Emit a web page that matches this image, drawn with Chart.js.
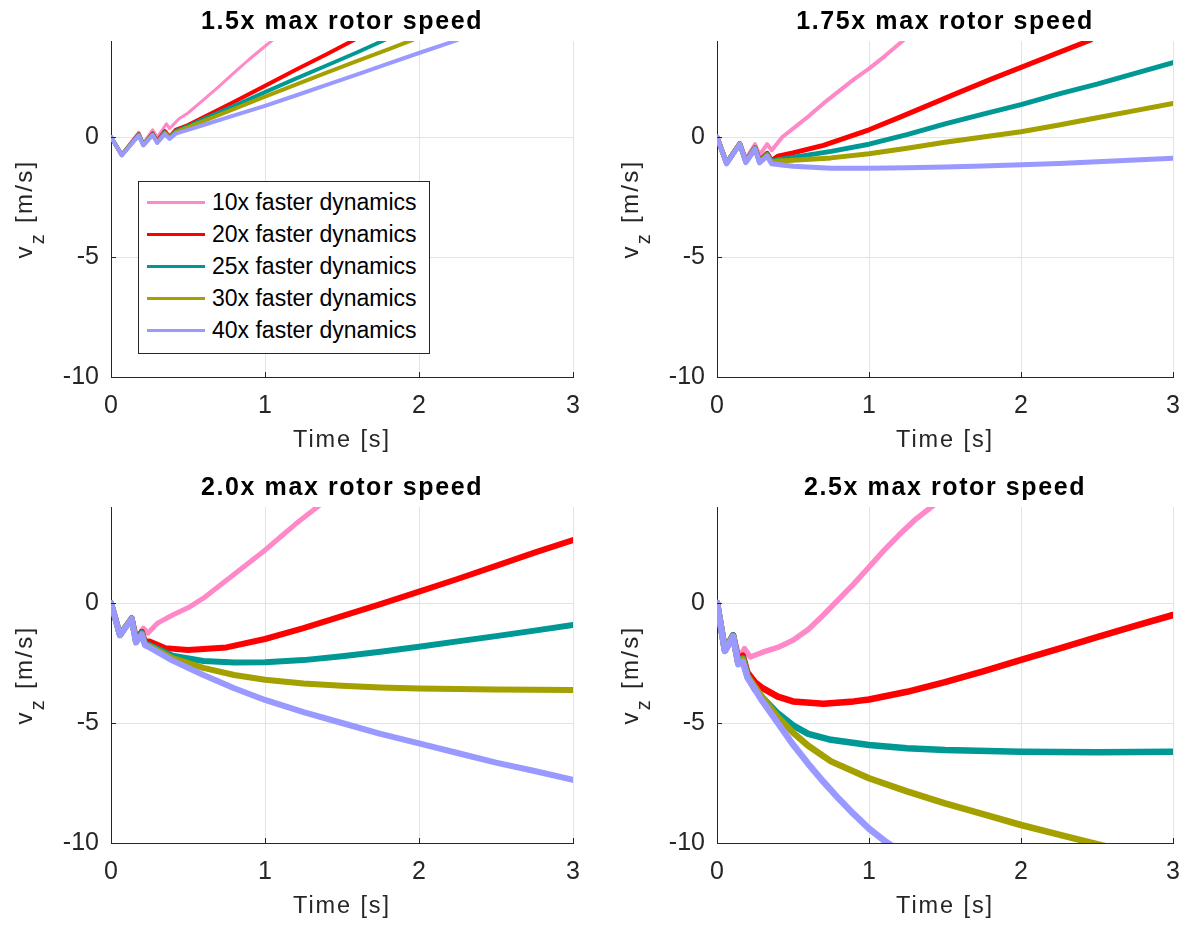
<!DOCTYPE html>
<html>
<head>
<meta charset="utf-8">
<script src="https://cdn.jsdelivr.net/npm/chart.js@4.4.0/dist/chart.umd.min.js"></script>
<style>
  body { margin: 0; background: #fff; font-family: "Liberation Sans", Arial, sans-serif; }
  #page { position: relative; width: 1194px; height: 932px; overflow: hidden; }
  .panel { position: absolute; width: 597px; height: 466px; }
  #legend { position: absolute; left: 138px; top: 181px; width: 290px; height: 167px;
            border: 1px solid #262626; background: #fff; padding-top: 4px; box-sizing: content-box; }
  #legend .row { height: 32px; display: flex; align-items: center; font-size: 23px; color: #000; }
  #legend .swatch { display: inline-block; width: 58px; height: 3px; margin-left: 8px; margin-right: 7px; }
</style>
</head>
<body>
<div id="page">
  <div class="panel" style="left:0;top:0"><canvas id="c1"></canvas></div>
  <div class="panel" style="left:597px;top:0"><canvas id="c2"></canvas></div>
  <div class="panel" style="left:0;top:466px"><canvas id="c3"></canvas></div>
  <div class="panel" style="left:597px;top:466px"><canvas id="c4"></canvas></div>
  <div id="legend"></div>
</div>
<script>
// ---- data: [time s, v_z m/s] ----
const seriesLabels = ['10x faster dynamics', '20x faster dynamics', '25x faster dynamics', '30x faster dynamics', '40x faster dynamics'];
const seriesColors = ['#ff88c8', '#ff0000', '#009894', '#a3a000', '#9999ff'];
const panelTitles = ['1.5x max rotor speed', '1.75x max rotor speed', '2.0x max rotor speed', '2.5x max rotor speed'];
const xTicks = [0, 1, 2, 3];
const yTicks = [-10, -5, 0];

// 1.5x
const p1_10x = [[0,0],[0.07,-0.72],[0.18,0.2],[0.21,-0.25],[0.27,0.3],[0.3,0.0],[0.36,0.55],[0.38,0.35],[0.44,0.75],[0.5,1.0],[0.6,1.55],[0.7,2.1],[0.8,2.68],[0.9,3.25],[1.0,3.78],[1.07,4.15]];
const p1_20x = [[0,0],[0.07,-0.75],[0.18,0.12],[0.21,-0.33],[0.27,0.15],[0.3,-0.18],[0.35,0.25],[0.38,0.0],[0.42,0.3],[0.5,0.5],[0.6,0.82],[0.8,1.47],[1.0,2.13],[1.2,2.8],[1.4,3.45],[1.58,4.05]];
const p1_25x = [[0,0],[0.07,-0.75],[0.18,0.1],[0.21,-0.33],[0.27,0.12],[0.3,-0.2],[0.35,0.2],[0.38,-0.02],[0.42,0.25],[0.5,0.45],[0.6,0.75],[0.8,1.3],[1.0,1.87],[1.2,2.43],[1.4,2.98],[1.6,3.53],[1.78,4.05]];
const p1_30x = [[0,0],[0.07,-0.75],[0.18,0.08],[0.21,-0.33],[0.27,0.1],[0.3,-0.22],[0.35,0.17],[0.38,-0.04],[0.42,0.2],[0.5,0.4],[0.6,0.66],[0.8,1.17],[1.0,1.68],[1.2,2.18],[1.4,2.68],[1.6,3.17],[1.8,3.65],[1.96,4.05]];
const p1_40x = [[0,0],[0.07,-0.77],[0.18,0.06],[0.21,-0.35],[0.27,0.08],[0.3,-0.25],[0.35,0.12],[0.38,-0.08],[0.42,0.14],[0.5,0.3],[0.6,0.5],[0.8,0.9],[1.0,1.3],[1.2,1.73],[1.4,2.17],[1.6,2.61],[1.8,3.06],[2.0,3.5],[2.2,3.93],[2.25,4.05]];

// 1.75x
const p2_10x = [[0,0],[0.063,-1.05],[0.15,-0.25],[0.19,-0.9],[0.25,-0.3],[0.28,-0.75],[0.33,-0.3],[0.36,-0.55],[0.43,0.0],[0.5,0.35],[0.6,0.85],[0.7,1.4],[0.8,1.9],[0.9,2.4],[1.0,2.85],[1.1,3.35],[1.23,4.05]];
const p2_20x = [[0,0],[0.063,-1.1],[0.15,-0.28],[0.19,-1.03],[0.25,-0.45],[0.28,-1.0],[0.33,-0.68],[0.36,-0.98],[0.4,-0.8],[0.5,-0.66],[0.7,-0.35],[1.0,0.3],[1.2,0.82],[1.4,1.35],[1.6,1.88],[1.8,2.4],[2.0,2.9],[2.2,3.4],[2.46,4.05]];
const p2_25x = [[0,0],[0.063,-1.1],[0.15,-0.28],[0.19,-1.03],[0.25,-0.45],[0.28,-1.03],[0.33,-0.72],[0.36,-1.02],[0.4,-0.95],[0.5,-0.85],[0.75,-0.6],[1.0,-0.3],[1.25,0.1],[1.5,0.55],[1.75,0.95],[2.0,1.35],[2.25,1.8],[2.5,2.2],[2.75,2.65],[3.0,3.1]];
const p2_30x = [[0,0],[0.063,-1.1],[0.15,-0.28],[0.19,-1.05],[0.25,-0.47],[0.28,-1.05],[0.33,-0.75],[0.36,-1.05],[0.4,-1.0],[0.5,-0.97],[0.75,-0.87],[1.0,-0.7],[1.25,-0.47],[1.5,-0.22],[1.75,0.0],[2.0,0.22],[2.25,0.5],[2.5,0.8],[2.75,1.1],[3.0,1.4]];
const p2_40x = [[0,0],[0.063,-1.12],[0.15,-0.3],[0.19,-1.07],[0.25,-0.5],[0.28,-1.08],[0.33,-0.8],[0.36,-1.12],[0.4,-1.15],[0.5,-1.22],[0.75,-1.3],[1.0,-1.3],[1.25,-1.28],[1.5,-1.25],[1.75,-1.21],[2.0,-1.16],[2.25,-1.1],[2.5,-1.03],[2.75,-0.96],[3.0,-0.89]];

// 2.0x
const p3_10x = [[0,0],[0.058,-1.3],[0.134,-0.6],[0.17,-1.45],[0.21,-1.05],[0.24,-1.25],[0.3,-0.85],[0.4,-0.5],[0.5,-0.2],[0.6,0.2],[0.7,0.7],[0.8,1.2],[0.9,1.7],[1.0,2.2],[1.1,2.75],[1.2,3.3],[1.35,4.05]];
const p3_20x = [[0,0],[0.058,-1.33],[0.134,-0.64],[0.162,-1.55],[0.2,-1.2],[0.22,-1.6],[0.25,-1.6],[0.35,-1.88],[0.5,-1.96],[0.75,-1.85],[1.0,-1.5],[1.25,-1.05],[1.5,-0.55],[1.75,-0.05],[2.0,0.47],[2.25,1.0],[2.5,1.55],[2.75,2.1],[3.0,2.62]];
const p3_25x = [[0,0],[0.058,-1.33],[0.134,-0.64],[0.162,-1.6],[0.2,-1.25],[0.22,-1.68],[0.25,-1.75],[0.4,-2.2],[0.6,-2.42],[0.8,-2.48],[1.0,-2.47],[1.25,-2.38],[1.5,-2.22],[1.75,-2.03],[2.0,-1.82],[2.25,-1.6],[2.5,-1.38],[2.75,-1.15],[3.0,-0.92]];
const p3_30x = [[0,0],[0.058,-1.33],[0.134,-0.64],[0.162,-1.62],[0.2,-1.28],[0.22,-1.72],[0.25,-1.8],[0.4,-2.3],[0.6,-2.7],[0.8,-3.0],[1.0,-3.2],[1.25,-3.35],[1.5,-3.45],[1.75,-3.52],[2.0,-3.56],[2.5,-3.6],[3.0,-3.62]];
const p3_40x = [[0,0],[0.058,-1.35],[0.134,-0.66],[0.162,-1.65],[0.2,-1.32],[0.22,-1.76],[0.25,-1.85],[0.4,-2.4],[0.6,-3.0],[0.8,-3.55],[1.0,-4.04],[1.25,-4.55],[1.5,-5.0],[1.75,-5.45],[2.0,-5.85],[2.25,-6.25],[2.5,-6.65],[2.75,-7.0],[3.0,-7.37]];

// 2.5x
const p4_10x = [[0,0],[0.052,-1.96],[0.106,-1.35],[0.15,-2.3],[0.18,-1.9],[0.22,-2.25],[0.3,-2.05],[0.4,-1.85],[0.5,-1.55],[0.6,-1.1],[0.7,-0.5],[0.8,0.15],[0.9,0.8],[1.0,1.5],[1.1,2.2],[1.2,2.85],[1.3,3.45],[1.43,4.1]];
const p4_20x = [[0,0],[0.052,-1.96],[0.106,-1.35],[0.14,-2.45],[0.17,-2.2],[0.2,-2.9],[0.25,-3.3],[0.3,-3.55],[0.4,-3.9],[0.5,-4.1],[0.7,-4.2],[0.9,-4.1],[1.0,-4.02],[1.25,-3.7],[1.5,-3.3],[1.75,-2.85],[2.0,-2.37],[2.25,-1.9],[2.5,-1.42],[2.75,-0.95],[3.0,-0.5]];
const p4_25x = [[0,0],[0.052,-1.96],[0.106,-1.35],[0.14,-2.5],[0.17,-2.3],[0.2,-3.0],[0.25,-3.6],[0.3,-3.95],[0.4,-4.6],[0.5,-5.1],[0.6,-5.45],[0.75,-5.7],[1.0,-5.92],[1.25,-6.05],[1.5,-6.13],[2.0,-6.2],[2.5,-6.22],[3.0,-6.2]];
const p4_30x = [[0,0],[0.052,-1.98],[0.106,-1.38],[0.14,-2.52],[0.17,-2.35],[0.2,-3.05],[0.3,-3.95],[0.4,-4.75],[0.5,-5.4],[0.6,-5.95],[0.75,-6.6],[1.0,-7.3],[1.25,-7.85],[1.5,-8.35],[1.75,-8.8],[2.0,-9.25],[2.25,-9.65],[2.5,-10.05],[2.6,-10.2]];
const p4_40x = [[0,0],[0.052,-2.0],[0.106,-1.4],[0.14,-2.55],[0.17,-2.45],[0.2,-3.1],[0.3,-4.1],[0.4,-5.0],[0.5,-5.9],[0.6,-6.7],[0.7,-7.45],[0.8,-8.15],[0.9,-8.8],[1.0,-9.4],[1.1,-9.9],[1.17,-10.2]];

const panelSeries = [
  [p1_10x, p1_20x, p1_25x, p1_30x, p1_40x],
  [p2_10x, p2_20x, p2_25x, p2_30x, p2_40x],
  [p3_10x, p3_20x, p3_25x, p3_30x, p3_40x],
  [p4_10x, p4_20x, p4_25x, p4_30x, p4_40x]
];
const panelLineWidth = [4, 5, 6, 6.5];

const axisColor = '#262626';
const fontFamily = '"Liberation Sans", Arial, Helvetica, sans-serif';

// titles, axis labels (with subscript) and inward tick marks, MATLAB style
const matlabAxes = {
  id: 'matlabAxes',
  afterDraw(chart, args, opts) {
    const ctx = chart.ctx;
    const a = chart.chartArea;
    const cx = (a.left + a.right) / 2;
    ctx.save();
    ctx.fillStyle = '#000';
    ctx.textAlign = 'center';
    ctx.textBaseline = 'alphabetic';

    ctx.font = 'bold 25px ' + fontFamily;
    ctx.letterSpacing = '1.6px';
    ctx.fillText(opts.title, cx, a.top - 12);

    ctx.fillStyle = axisColor;
    ctx.font = '23.5px ' + fontFamily;
    ctx.letterSpacing = '1.9px';
    ctx.fillText('Time [s]', cx, a.bottom + 70);

    // y label: v_z [m/s], rotated
    ctx.translate(a.left - 79, (a.top + a.bottom) / 2);
    ctx.rotate(-Math.PI / 2);
    ctx.textAlign = 'left';
    ctx.letterSpacing = '2.3px';
    const big = '24px ' + fontFamily, small = '20px ' + fontFamily;
    ctx.font = big; const wv = ctx.measureText('v').width;
    ctx.font = small; const wz = ctx.measureText('z').width;
    ctx.font = big; const wr = ctx.measureText(' [m/s]').width;
    let x = -(wv + wz + wr) / 2;
    ctx.font = big; ctx.fillText('v', x, 0); x += wv;
    ctx.font = small; ctx.fillText('z', x, 12); x += wz;
    ctx.font = big; ctx.fillText(' [m/s]', x, 0);
    ctx.restore();

    // inward ticks
    const xs = chart.scales.x, ys = chart.scales.y;
    ctx.save();
    ctx.strokeStyle = axisColor;
    ctx.lineWidth = 1;
    ctx.beginPath();
    xTicks.forEach(v => { const p = Math.round(xs.getPixelForValue(v)) + 0.5; ctx.moveTo(p, a.bottom); ctx.lineTo(p, a.bottom - 5); });
    yTicks.forEach(v => { const p = Math.round(ys.getPixelForValue(v)) + 0.5; ctx.moveTo(a.left, p); ctx.lineTo(a.left + 5, p); });
    ctx.stroke();
    ctx.restore();
  }
};

function makeChart(id, idx) {
  const isLeft = idx % 2 === 0;
  const lw = panelLineWidth[idx];
  return new Chart(document.getElementById(id), {
    type: 'line',
    data: {
      datasets: panelSeries[idx].map((pts, i) => ({
        label: seriesLabels[i],
        data: pts.map(([t, v]) => ({ x: t, y: v })),
        borderColor: seriesColors[i],
        backgroundColor: seriesColors[i],
        borderWidth: i === 0 ? lw - 1 : lw,
        borderJoinStyle: 'round',
        borderCapStyle: 'round',
        pointRadius: 0,
        tension: 0,
        clip: 0,
        order: 4 - i
      }))
    },
    options: {
      responsive: true,
      maintainAspectRatio: false,
      animation: false,
      events: [],
      layout: { padding: { top: 41, right: isLeft ? 24 : 15, bottom: 0, left: 0 } },
      plugins: {
        legend: { display: false },
        tooltip: { enabled: false },
        matlabAxes: { title: panelTitles[idx] }
      },
      scales: {
        x: {
          type: 'linear', min: 0, max: 3,
          afterBuildTicks: s => { s.ticks = xTicks.map(v => ({ value: v })); },
          afterFit: s => { s.height = 89; },
          grid: { color: '#e3e3e3', drawTicks: false },
          border: { color: axisColor, width: 1 },
          ticks: { padding: 14, color: axisColor, font: { family: fontFamily, size: 25 }, maxRotation: 0 }
        },
        y: {
          type: 'linear', min: -10, max: 4,
          afterBuildTicks: s => { s.ticks = yTicks.map(v => ({ value: v })); },
          afterFit: s => { s.width = isLeft ? 111 : 120; },
          grid: { color: '#e3e3e3', drawTicks: false },
          border: { color: axisColor, width: 1 },
          ticks: { padding: 12, color: axisColor, font: { family: fontFamily, size: 25 } }
        }
      }
    },
    plugins: [matlabAxes]
  });
}

['c1', 'c2', 'c3', 'c4'].forEach((id, i) => makeChart(id, i));

// legend (first panel only)
const legend = document.getElementById('legend');
seriesLabels.forEach((lab, i) => {
  const row = document.createElement('div');
  row.className = 'row';
  const sw = document.createElement('span');
  sw.className = 'swatch';
  sw.style.background = seriesColors[i];
  row.appendChild(sw);
  row.appendChild(document.createTextNode(lab));
  legend.appendChild(row);
});
</script>
</body>
</html>
